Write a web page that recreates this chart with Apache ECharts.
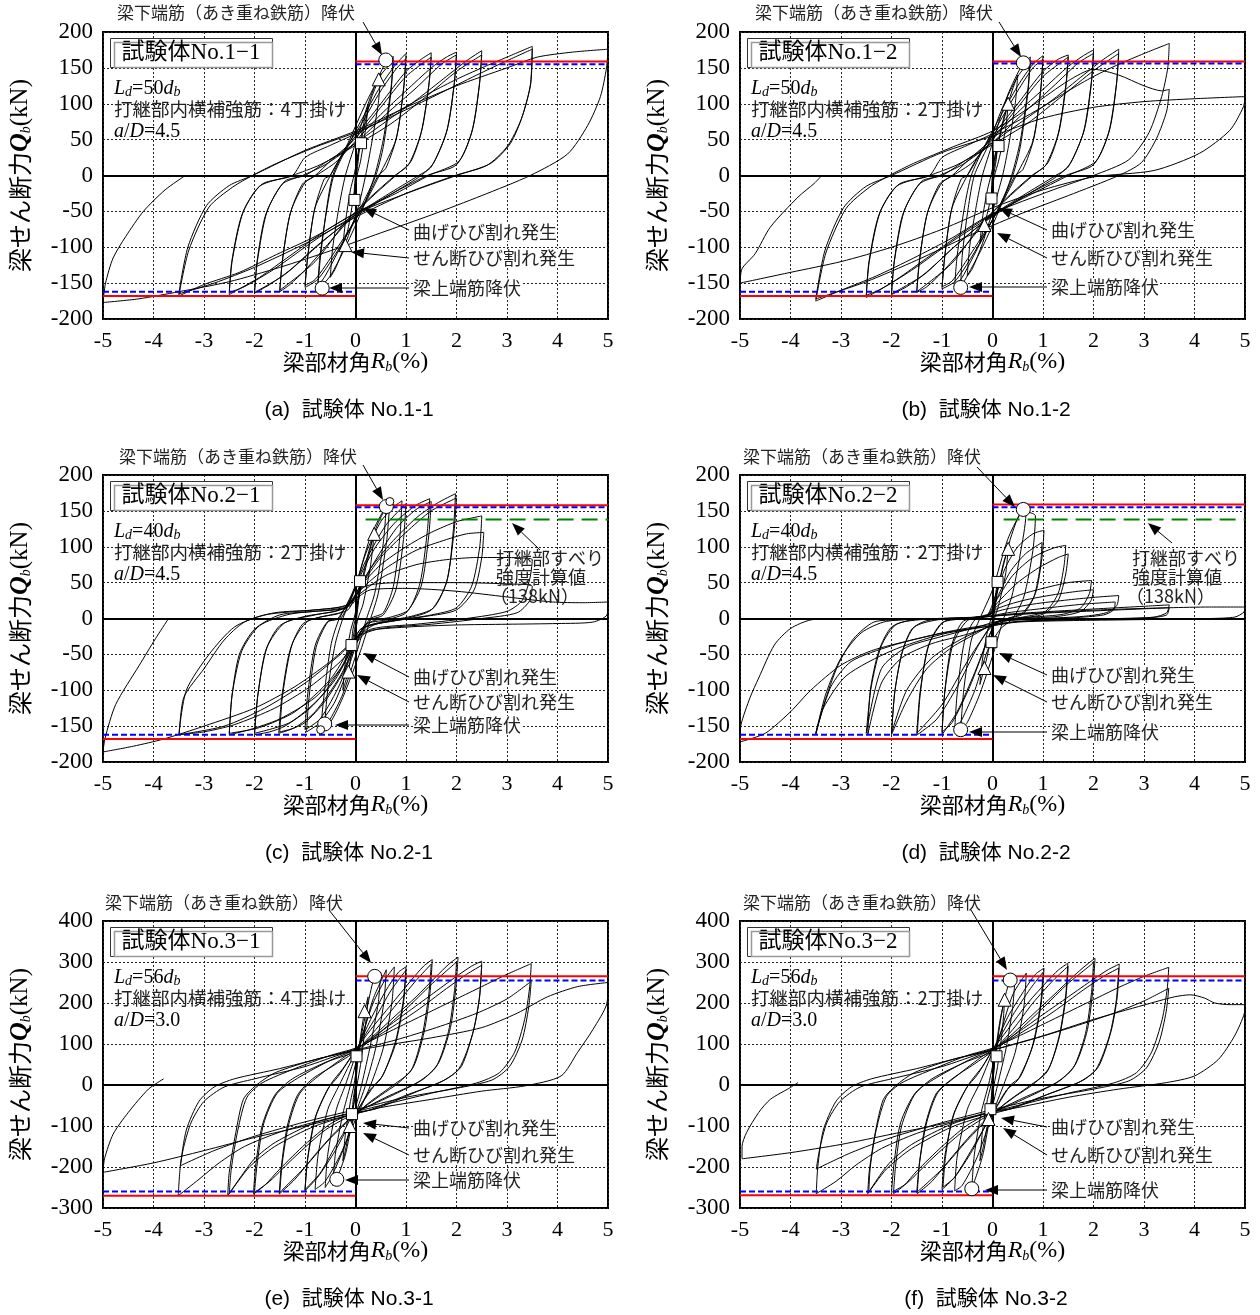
<!DOCTYPE html>
<html>
<head>
<meta charset="utf-8">
<script src="https://cdn.jsdelivr.net/npm/echarts@6/dist/echarts.min.js"></script>
<style>
  html, body { margin: 0; padding: 0; background: #fff; }
  #main { width: 1260px; height: 1315px; }
</style>
</head>
<body>
<div id="main"></div>
<script>
/*----- axis ranges -----*/
var xRange = [-5, 5, 1];
var yRange12 = [-200, 200, 50];
var yRange3 = [-300, 400, 100];

/*----- No.1-1 -----*/
var loopA = [
  [0,0],[0.03,20],[0.08,45],[0.06,25],[0.02,0],[-0.01,-20],[-0.03,-38],[-0.02,-15],[0,0],
  [0.1,50],[0.2,85],[0.25,98],[0.2,65],[0.1,20],[0.03,0],[-0.05,-35],[-0.15,-75],[-0.25,-98],[-0.2,-65],[-0.1,-20],[-0.03,0],
  [0.1,45],[0.3,105],[0.46,134],[0.5,142],[0.45,100],[0.32,45],[0.2,0],[0.05,-45],[-0.2,-95],[-0.4,-130],[-0.5,-142],[-0.45,-100],[-0.33,-45],[-0.2,0],
  [0,45],[0.3,110],[0.6,158],[0.75,166],[0.7,120],[0.55,50],[0.38,0],[0.15,-45],[-0.2,-100],[-0.5,-140],[-0.75,-160],[-0.7,-118],[-0.58,-50],[-0.45,0],
  [-0.15,45],[0.2,100],[0.5,140],[0.75,160],[0.7,115],[0.55,40],[0.4,0],[0.1,-45],[-0.3,-100],[-0.6,-140],[-0.75,-155],[-0.7,-110],[-0.55,-40],[-0.43,0],
  [-0.2,35],[0.1,75],[0.5,125],[0.8,155],[1.0,170],[0.96,125],[0.82,55],[0.6,10],[0.45,0],[0.2,-35],[0,-62],[-0.4,-110],[-0.75,-145],[-1.0,-156],[-0.95,-115],[-0.82,-50],[-0.62,-5],[-0.5,0],
  [-0.25,32],[0.1,70],[0.5,118],[0.8,148],[1.0,163],[0.95,120],[0.8,50],[0.47,0],[0.1,-50],[-0.4,-105],[-0.8,-145],[-1.0,-153],[-0.94,-110],[-0.8,-45],[-0.5,0],
  [-0.3,25],[0,55],[0.5,100],[1.0,145],[1.3,162],[1.5,171],[1.46,130],[1.32,65],[1.1,20],[0.8,0],[0.4,-25],[0,-52],[-0.5,-92],[-1.0,-132],[-1.3,-152],[-1.5,-162],[-1.45,-120],[-1.3,-55],[-1.05,-12],[-0.8,0],
  [-0.5,20],[0,52],[0.5,95],[1.0,138],[1.5,165],[1.45,125],[1.3,60],[1.05,15],[0.78,0],[0.3,-30],[-0.2,-65],[-0.8,-120],[-1.5,-160],[-1.44,-115],[-1.28,-50],[-1.0,-10],[-0.78,0],
  [-0.4,18],[0,48],[0.5,85],[1.0,118],[1.5,150],[1.8,165],[2.0,172],[1.96,130],[1.82,65],[1.55,18],[1.3,0],[0.8,-22],[0.2,-48],[-0.3,-72],[-0.8,-100],[-1.3,-132],[-1.7,-152],[-2.0,-164],[-1.95,-120],[-1.78,-55],[-1.45,-12],[-1.05,0],
  [-0.6,15],[0,45],[0.6,85],[1.2,122],[1.7,155],[2.0,168],[1.95,125],[1.8,60],[1.5,12],[1.25,0],[0.6,-28],[0,-55],[-0.7,-95],[-1.4,-138],[-2.0,-163],[-1.94,-118],[-1.75,-50],[-1.4,-8],[-1.0,0],
  [-0.6,18],[0,45],[0.6,75],[1.2,105],[1.8,138],[2.2,160],[2.5,174],[2.46,130],[2.32,65],[2.05,20],[1.45,0],[0.8,-25],[0,-52],[-0.7,-82],[-1.3,-112],[-1.9,-142],[-2.3,-158],[-2.5,-166],[-2.45,-120],[-2.25,-55],[-1.9,-15],[-1.25,0],
  [-0.7,15],[0,42],[0.7,72],[1.4,110],[2.0,145],[2.5,168],[2.45,125],[2.3,60],[2.0,15],[1.42,0],[0.6,-30],[0,-55],[-0.8,-90],[-1.6,-130],[-2.2,-155],[-2.5,-163],[-2.44,-118],[-2.22,-50],[-1.85,-12],[-1.25,0],
  [-1.0,25],[-0.5,42],[0,58],[0.5,76],[1.0,96],[1.5,116],[2.0,134],[2.5,150],[3.0,165],[3.5,180],[3.47,128],[3.3,82],[3.07,45],[2.68,17],[2.0,0],[1.2,-20],[0,-53],[-0.8,-85],[-1.56,-110],[-2.3,-135],[-3.0,-152],[-3.5,-168],[-3.3,-104],[-2.9,-44],[-2.43,-16],[-2.04,0],
  [-1.56,17],[-0.78,40],[0,60],[0.8,85],[1.6,112],[2.4,140],[3.0,160],[3.5,176],[3.46,125],[3.28,78],[3.0,40],[2.6,14],[1.97,0],[1.0,-25],[0,-58],[-1.0,-95],[-2.0,-128],[-2.8,-150],[-3.5,-165],[-3.32,-100],[-2.95,-42],[-2.5,-14],[-2.04,0],
  [-1.0,35],[0,62],[1.0,95],[2.0,125],[3.0,150],[3.6,165],[4.3,172],[5.0,176],[4.97,150],[4.85,110],[4.6,70],[4.2,30],[3.46,0],[2.5,-28],[1.5,-55],[0.5,-80],[-0.5,-105],[-1.5,-128],[-2.5,-148],[-3.5,-162],[-4.3,-172],[-5,-177],
  [-4.95,-150],[-4.8,-115],[-4.55,-85],[-4.2,-50],[-3.77,-20],[-3.37,0]
];
var yieldA = [[0.6,161],[-0.66,-157]];
var shearA = [[0.46,134],[-0.2,-97]];
var flexA = [[0.11,45],[-0.02,-34]];
var capA = [159, 155, -168, -162];

/*----- No.1-2 -----*/
var loopB = [
  [0,0],[0.04,25],[0.1,42],[0.07,20],[0.02,0],[-0.01,-18],[-0.02,-32],[-0.015,-12],[0,0],
  [0.12,45],[0.22,80],[0.31,100],[0.26,65],[0.12,20],[0.04,0],[-0.06,-40],[-0.16,-69],[-0.25,-95],[-0.2,-60],[-0.1,-20],[-0.03,0],
  [0.12,48],[0.35,110],[0.5,140],[0.45,100],[0.32,42],[0.2,0],[0.02,-45],[-0.2,-95],[-0.4,-130],[-0.5,-140],[-0.45,-98],[-0.32,-42],[-0.2,0],
  [0,45],[0.3,112],[0.61,157],[0.75,165],[0.7,120],[0.55,48],[0.38,0],[0.15,-45],[-0.2,-100],[-0.5,-140],[-0.63,-156],[-0.6,-112],[-0.48,-45],[-0.36,0],
  [-0.1,40],[0.2,95],[0.5,138],[0.75,160],[0.7,115],[0.55,40],[0.4,0],[0.1,-48],[-0.3,-102],[-0.6,-142],[-0.75,-155],[-0.7,-112],[-0.55,-42],[-0.42,0],
  [-0.2,35],[0.1,75],[0.5,125],[0.8,155],[1.0,167],[0.96,122],[0.82,52],[0.6,8],[0.45,0],[0.2,-35],[0,-62],[-0.4,-112],[-0.75,-148],[-1.0,-158],[-0.95,-115],[-0.82,-50],[-0.62,-5],[-0.5,0],
  [-0.25,30],[0.1,70],[0.5,118],[0.8,150],[1.0,162],[0.95,118],[0.8,48],[0.47,0],[0.1,-50],[-0.4,-106],[-0.8,-147],[-1.0,-155],[-0.94,-110],[-0.8,-45],[-0.5,0],
  [-0.3,25],[0,55],[0.5,100],[1.0,145],[1.3,162],[1.5,168],[1.46,128],[1.32,62],[1.1,18],[0.8,0],[0.4,-25],[0,-52],[-0.5,-95],[-1.0,-135],[-1.3,-155],[-1.5,-163],[-1.45,-120],[-1.3,-55],[-1.05,-12],[-0.8,0],
  [-0.5,20],[0,52],[0.5,95],[1.0,138],[1.5,165],[1.45,125],[1.3,58],[1.05,14],[0.78,0],[0.3,-30],[-0.2,-66],[-0.8,-122],[-1.5,-162],[-1.44,-116],[-1.28,-50],[-1.0,-10],[-0.78,0],
  [-0.4,18],[0,50],[0.5,88],[1.0,120],[1.5,152],[1.8,167],[2.0,175],[1.96,130],[1.82,64],[1.55,18],[1.3,0],[0.8,-22],[0.2,-48],[-0.3,-72],[-0.8,-102],[-1.3,-135],[-1.7,-155],[-2.0,-166],[-1.95,-122],[-1.78,-55],[-1.45,-12],[-1.05,0],
  [-0.6,15],[0,46],[0.6,86],[1.2,124],[1.7,157],[2.0,170],[1.95,126],[1.8,60],[1.5,12],[1.25,0],[0.6,-28],[0,-55],[-0.7,-96],[-1.4,-140],[-2.0,-165],[-1.94,-118],[-1.75,-50],[-1.4,-8],[-1.0,0],
  [-0.6,18],[0,46],[0.6,76],[1.2,106],[1.8,140],[2.2,162],[2.5,176],[2.46,130],[2.32,64],[2.05,20],[1.5,0],[0.8,-25],[0,-54],[-0.7,-85],[-1.3,-115],[-1.9,-145],[-2.3,-162],[-2.5,-170],[-2.45,-122],[-2.25,-55],[-1.9,-15],[-1.25,0],
  [-0.7,15],[0,43],[0.7,73],[1.4,112],[2.0,146],[2.5,170],[2.45,125],[2.3,60],[2.0,15],[1.45,0],[0.6,-30],[0,-56],[-0.8,-92],[-1.6,-132],[-2.2,-158],[-2.5,-167],[-2.44,-120],[-2.22,-50],[-1.85,-12],[-1.25,0],
  [-1.0,25],[-0.5,42],[0,58],[0.5,76],[1.0,96],[1.5,118],[2.0,138],[2.5,155],[3.0,170],[3.5,184],[3.47,150],[3.35,110],[3.1,60],[2.7,22],[2.0,0],[1.2,-20],[0,-53],[-0.8,-87],[-1.56,-115],[-2.3,-140],[-3.0,-160],[-3.5,-175],[-3.3,-108],[-2.9,-46],[-2.43,-16],[-2.04,0],
  [-1.56,17],[-0.78,40],[0,62],[0.8,98],[1.5,132],[2.0,148],[2.5,140],[3.0,125],[3.35,118],[3.5,120],[3.45,90],[3.25,52],[2.95,18],[2.5,0],[1.5,-28],[0.5,-55],[-0.5,-85],[-1.5,-118],[-2.5,-148],[-3.5,-172],[-3.32,-105],[-2.95,-45],[-2.5,-15],[-2.0,0],
  [-1.0,32],[0,55],[1.0,80],[2.0,95],[3.0,103],[4.0,107],[5.0,110],[4.97,96],[4.7,63],[4.1,31],[3.2,7],[2.0,-2],[1.0,-20],[0,-45],[-1.0,-75],[-2.0,-100],[-3.0,-120],[-4.0,-135],[-5.0,-150],
  [-4.96,-130],[-4.7,-109],[-4.4,-72],[-3.85,-30],[-3.53,-11],[-3.38,0]
];
var yieldB = [[0.61,157],[-0.63,-156]];
var shearB = [[0.31,100],[-0.16,-69]];
var flexB = [[0.12,41],[-0.02,-32]];
var capB = [159, 156, -168, -162];

/*----- No.2-1 -----*/
var loopC = [
  [0,0],[0.04,25],[0.09,52],[0.06,25],[0.02,0],[-0.03,-20],[-0.08,-37],[-0.05,-15],[0,0],
  [0.12,50],[0.25,90],[0.37,118],[0.3,75],[0.15,20],[0.05,0],[-0.06,-40],[-0.14,-74],[-0.25,-100],[-0.2,-60],[-0.1,-18],[-0.03,0],
  [0.15,55],[0.4,125],[0.61,156],[0.55,105],[0.38,35],[0.22,0],[0.02,-48],[-0.25,-105],[-0.5,-140],[-0.61,-147],[-0.55,-100],[-0.4,-35],[-0.25,0],
  [0,45],[0.3,115],[0.55,150],[0.68,163],[0.62,110],[0.45,35],[0.3,0],[0.1,-45],[-0.25,-110],[-0.5,-145],[-0.69,-155],[-0.62,-105],[-0.48,-35],[-0.32,0],
  [-0.05,35],[0.2,90],[0.5,135],[0.75,155],[0.92,164],[0.88,115],[0.75,45],[0.55,8],[0.3,0],[0.1,-20],[-0.1,-60],[-0.4,-115],[-0.7,-145],[-0.97,-158],[-0.92,-110],[-0.78,-40],[-0.55,-5],[-0.35,0],
  [-0.1,30],[0.2,80],[0.6,130],[1.0,160],[0.95,110],[0.8,40],[0.55,5],[0.3,-2],[0,-30],[-0.3,-90],[-0.7,-140],[-1.0,-155],[-0.95,-108],[-0.8,-38],[-0.55,-4],[-0.3,0],
  [-0.1,25],[0.1,60],[0.4,100],[0.8,135],[1.2,158],[1.47,167],[1.42,120],[1.28,50],[1.05,12],[0.7,2],[0.3,-5],[0.05,-30],[-0.2,-70],[-0.6,-115],[-1.0,-145],[-1.3,-155],[-1.52,-160],[-1.46,-110],[-1.3,-45],[-1.05,-8],[-0.7,2],[-0.3,8],
  [0,30],[0.3,70],[0.8,125],[1.2,152],[1.5,163],[1.45,115],[1.3,45],[1.0,8],[0.6,-2],[0.2,-8],[0,-35],[-0.3,-80],[-0.8,-130],[-1.2,-152],[-1.5,-158],[-1.44,-105],[-1.25,-35],[-0.95,-4],[-0.5,5],[-0.15,12],
  [0.05,40],[0.3,70],[0.7,105],[1.2,140],[1.6,160],[1.98,174],[1.94,125],[1.82,55],[1.55,15],[1.1,3],[0.5,-5],[0.1,-15],[-0.1,-45],[-0.4,-85],[-0.9,-125],[-1.4,-150],[-1.7,-158],[-2.0,-162],[-1.94,-110],[-1.78,-45],[-1.5,-10],[-1.0,3],[-0.4,10],[-0.1,20],
  [0.1,45],[0.5,85],[1.0,120],[1.5,150],[2.0,168],[1.95,120],[1.8,50],[1.5,12],[1.0,0],[0.4,-8],[0.05,-25],[-0.2,-60],[-0.7,-110],[-1.3,-145],[-2.0,-160],[-1.93,-105],[-1.75,-40],[-1.4,-6],[-0.8,5],[-0.2,15],
  [0.1,45],[0.5,75],[1.0,100],[1.5,120],[2.0,135],[2.3,140],[2.5,143],[2.46,100],[2.3,45],[2.0,15],[1.5,5],[0.8,-3],[0.2,-12],[-0.05,-35],[-0.3,-70],[-0.8,-110],[-1.5,-140],[-2.1,-155],[-2.5,-162],[-2.45,-110],[-2.3,-50],[-2.0,-15],[-1.5,5],[-0.8,10],[-0.2,15],
  [0.1,40],[0.6,70],[1.2,95],[1.8,110],[2.2,118],[2.54,120],[2.5,85],[2.35,40],[2.0,12],[1.4,3],[0.6,-5],[0.1,-15],[-0.1,-40],[-0.5,-85],[-1.2,-130],[-1.9,-152],[-2.5,-160],[-2.44,-105],[-2.25,-45],[-1.9,-10],[-1.3,6],[-0.5,12],[-0.1,18],
  [0.1,35],[0.6,60],[1.2,75],[1.8,82],[2.4,85],[3.0,85],[3.4,84],[3.5,82],[3.45,55],[3.3,25],[3.0,10],[2.2,0],[1.2,-8],[0.3,-15],[0,-35],[-0.3,-60],[-0.9,-95],[-1.6,-125],[-2.4,-148],[-3.0,-158],[-3.49,-162],[-3.4,-110],[-3.0,-70],[-2.6,-30],[-2.2,-5],[-1.6,8],[-0.8,12],[-0.2,18],
  [0.2,45],[1.0,50],[2.0,50],[3.1,48],[3.5,45],[3.45,25],[3.2,8],[2.5,0],[1.5,-8],[0.5,-14],[0.05,-25],[-0.3,-50],[-1.0,-90],[-1.8,-125],[-2.6,-150],[-3.5,-162],[-3.35,-100],[-2.9,-50],[-2.4,-12],[-1.8,5],[-0.8,12],[-0.2,18],
  [0.3,40],[1.0,42],[2.0,38],[3.0,30],[3.9,23],[4.5,22],[5.0,23],[4.98,5],[4.7,-5],[4.0,-7],[3.0,-8],[2.0,-9],[1.0,-12],[0.2,-18],[-0.1,-35],[-0.5,-60],[-1.2,-95],[-2.0,-125],[-3.0,-150],[-3.8,-168],[-4.4,-178],[-5.0,-186],
  [-4.96,-167],[-4.75,-120],[-4.28,-65],[-3.96,-28],[-3.72,-2]
];
var yieldC = [[0.61,156],[-0.61,-147]];
var yieldC2 = [[0.68,163],[-0.69,-155]];
var shearC = [[0.37,118],[-0.14,-74]];
var flexC = [[0.09,52],[-0.08,-37]];
var capC = [158, 155, -168, -162];
var slipC = [0.2, 138];

/*----- No.2-2 -----*/
var loopD = [
  [0,0],[0.04,25],[0.1,51],[0.07,25],[0.02,0],[-0.01,-18],[-0.02,-33],[-0.015,-12],[0,0],
  [0.12,45],[0.22,78],[0.31,97],[0.26,62],[0.12,18],[0.04,0],[-0.06,-38],[-0.16,-69],[-0.25,-92],[-0.2,-58],[-0.1,-18],[-0.03,0],
  [0.15,55],[0.35,110],[0.5,140],[0.61,152],[0.66,145],[0.55,90],[0.38,30],[0.22,0],[0.02,-48],[-0.25,-105],[-0.5,-145],[-0.63,-155],[-0.57,-100],[-0.42,-30],[-0.25,0],
  [0,40],[0.3,110],[0.55,145],[0.7,148],[0.85,143],[0.8,95],[0.62,30],[0.4,0],[0.15,-15],[-0.1,-45],[-0.35,-100],[-0.6,-140],[-0.75,-158],[-0.7,-105],[-0.55,-30],[-0.35,-2],[-0.1,5],
  [0.05,30],[0.25,70],[0.5,100],[0.8,118],[1.02,123],[0.98,85],[0.85,35],[0.6,8],[0.3,0],[0.05,-8],[-0.1,-30],[-0.35,-75],[-0.7,-130],[-1.0,-162],[-0.95,-105],[-0.82,-40],[-0.6,-5],[-0.3,2],[-0.05,6],
  [0.1,30],[0.35,65],[0.65,90],[0.98,106],[0.95,75],[0.82,30],[0.6,6],[0.3,0],[0.05,-8],[-0.15,-40],[-0.45,-95],[-0.8,-145],[-1.0,-158],[-0.94,-100],[-0.78,-35],[-0.5,-3],[-0.1,5],
  [0.1,28],[0.4,60],[0.8,85],[1.2,98],[1.45,102],[1.42,75],[1.3,35],[1.05,10],[0.6,2],[0.15,-3],[-0.05,-12],[-0.3,-40],[-0.7,-95],[-1.1,-140],[-1.49,-162],[-1.43,-105],[-1.28,-40],[-1.0,-6],[-0.5,0],[-0.1,4],
  [0.1,22],[0.5,50],[0.9,70],[1.3,85],[1.5,90],[1.45,62],[1.3,25],[1.0,6],[0.5,0],[0.1,-5],[-0.1,-18],[-0.5,-60],[-1.0,-120],[-1.5,-160],[-1.43,-100],[-1.25,-35],[-0.95,-4],[-0.4,1],[-0.05,5],
  [0.1,18],[0.5,32],[1.0,42],[1.5,50],[1.96,53],[1.92,35],[1.75,15],[1.4,6],[0.8,2],[0.2,-2],[-0.05,-10],[-0.3,-20],[-0.8,-40],[-1.3,-70],[-1.7,-115],[-2.0,-162],[-1.94,-105],[-1.8,-50],[-1.6,-15],[-1.3,-3],[-0.6,0],[-0.1,4],
  [0.1,14],[0.6,25],[1.2,33],[1.7,38],[2.0,40],[1.95,25],[1.75,10],[1.3,3],[0.6,0],[0.1,-4],[-0.1,-12],[-0.6,-28],[-1.2,-55],[-1.7,-100],[-2.0,-160],[-1.93,-100],[-1.78,-45],[-1.55,-12],[-1.1,-2],[-0.3,2],
  [0.2,12],[0.8,20],[1.5,26],[2.1,30],[2.5,32],[2.46,18],[2.25,8],[1.8,3],[1.0,0],[0.3,-3],[0,-10],[-0.5,-22],[-1.2,-35],[-1.8,-55],[-2.2,-90],[-2.47,-162],[-2.42,-100],[-2.25,-45],[-2.0,-12],[-1.6,-2],[-0.8,0],[-0.1,3],
  [0.3,8],[1.0,14],[1.8,20],[2.43,23],[2.4,12],[2.2,5],[1.6,1],[0.8,-1],[0.1,-4],[-0.3,-12],[-1.0,-25],[-1.7,-40],[-2.2,-70],[-2.5,-160],[-2.4,-95],[-2.2,-38],[-1.9,-8],[-1.3,-1],[-0.3,1],
  [0.3,6],[1.2,10],[2.2,14],[3.0,17],[3.5,19],[3.45,8],[3.2,2],[2.5,0],[1.5,-2],[0.5,-4],[0,-10],[-1.0,-22],[-2.0,-45],[-2.9,-80],[-3.35,-125],[-3.5,-162],[-3.34,-120],[-3.06,-65],[-2.75,-28],[-2.35,-5],[-1.88,-2],[-0.3,2],
  [0.3,5],[1.5,9],[2.5,12],[3.5,15],[3.45,5],[3.1,1],[2.0,-1],[0.8,-3],[0,-8],[-1.0,-20],[-2.0,-38],[-2.8,-60],[-3.2,-95],[-3.5,-160],[-3.3,-105],[-3.0,-55],[-2.6,-20],[-2.1,-4],[-1.0,0],[-0.2,2],
  [0.5,6],[1.5,10],[2.5,13],[3.5,15],[4.3,16],[5.0,16],[4.98,9],[4.8,2],[4.3,0],[3.5,-1],[2.5,-2],[1.5,-3],[0.5,-5],[0,-10],[-0.8,-18],[-1.6,-30],[-2.4,-45],[-3.0,-65],[-3.6,-100],[-4.0,-130],[-4.5,-160],[-5.0,-172],
  [-4.98,-148],[-4.8,-110],[-4.63,-83],[-4.32,-37],[-4.0,-14],[-3.6,-2],[-3.0,0]
];
var yieldD = [[0.61,152],[-0.63,-155]];
var shearD = [[0.31,97],[-0.16,-69]];
var flexD = [[0.1,51],[-0.02,-33]];
var capD = [159, 155, -168, -162];
var slipD = [0.22, 138];

/*----- No.3-1 -----*/
var loopE = [
  [0,0],[0.02,40],[0.02,70],[0.01,30],[0,0],[-0.03,-40],[-0.07,-71],[-0.04,-30],[0,0],
  [0.08,100],[0.18,180],[0.25,215],[0.2,150],[0.1,50],[0.03,0],[-0.05,-60],[-0.11,-100],[-0.2,-160],[-0.25,-185],[-0.2,-120],[-0.1,-40],[-0.03,0],
  [0.1,110],[0.25,200],[0.38,265],[0.5,275],[0.45,200],[0.3,100],[0.12,0],[-0.05,-80],[-0.2,-170],[-0.37,-229],[-0.45,-245],[-0.4,-170],[-0.25,-70],[-0.1,0],
  [0.1,100],[0.35,210],[0.61,281],[0.56,200],[0.4,90],[0.2,0],[0,-70],[-0.25,-160],[-0.5,-230],[-0.6,-250],[-0.55,-170],[-0.38,-60],[-0.2,0],
  [0.05,90],[0.35,200],[0.6,260],[0.77,288],[0.72,200],[0.55,90],[0.3,0],[0.05,-70],[-0.3,-170],[-0.6,-235],[-0.8,-255],[-0.74,-170],[-0.55,-60],[-0.32,0],
  [0,80],[0.3,160],[0.6,230],[0.85,275],[1.0,288],[0.95,210],[0.8,110],[0.55,25],[0.38,0],[0.1,-50],[-0.1,-90],[-0.4,-160],[-0.75,-225],[-1.0,-258],[-0.95,-180],[-0.8,-80],[-0.55,-10],[-0.35,20],
  [0,85],[0.4,165],[0.7,230],[1.0,280],[0.95,200],[0.78,95],[0.5,15],[0.3,-10],[0,-70],[-0.4,-150],[-0.7,-215],[-1.0,-255],[-0.94,-175],[-0.78,-75],[-0.5,0],[-0.25,40],
  [0,85],[0.3,135],[0.7,195],[1.1,255],[1.35,290],[1.52,306],[1.48,230],[1.36,130],[1.15,45],[0.85,5],[0.5,-25],[0,-70],[-0.4,-115],[-0.8,-170],[-1.2,-230],[-1.51,-266],[-1.47,-200],[-1.35,-100],[-1.15,-25],[-0.85,15],[-0.4,50],
  [0,82],[0.4,135],[0.8,195],[1.2,255],[1.5,295],[1.45,220],[1.32,120],[1.1,35],[0.75,0],[0.3,-40],[0,-72],[-0.5,-130],[-1.0,-200],[-1.5,-262],[-1.45,-190],[-1.32,-95],[-1.1,-20],[-0.7,25],[-0.2,70],
  [0,85],[0.4,125],[0.8,170],[1.2,215],[1.6,265],[1.85,295],[2.03,312],[1.99,240],[1.88,140],[1.65,55],[1.35,15],[0.9,-15],[0.3,-50],[0,-65],[-0.5,-95],[-1.0,-145],[-1.5,-205],[-1.8,-245],[-2.02,-266],[-1.98,-200],[-1.85,-100],[-1.6,-25],[-1.25,15],[-0.6,55],
  [0,82],[0.5,130],[1.0,185],[1.5,245],[2.0,300],[1.96,230],[1.84,130],[1.6,45],[1.25,8],[0.6,-30],[0,-68],[-0.6,-110],[-1.2,-175],[-1.7,-235],[-2.0,-262],[-1.95,-195],[-1.82,-95],[-1.55,-20],[-1.1,20],[-0.5,60],
  [0,87],[0.5,130],[1.0,175],[1.5,220],[2.0,265],[2.3,290],[2.5,302],[2.46,217],[2.34,135],[2.1,46],[1.79,14],[1.16,-19],[0.38,-59],[0,-67],[-0.8,-92],[-1.59,-140],[-2.0,-180],[-2.22,-215],[-2.53,-270],[-2.5,-213],[-2.37,-116],[-2.22,-35],[-1.98,-2],[-1.59,30],[-0.8,62],
  [0,88],[0.6,132],[1.2,180],[1.8,235],[2.2,270],[2.5,292],[2.45,210],[2.32,125],[2.05,40],[1.7,8],[1.0,-25],[0.3,-60],[0,-70],[-0.8,-100],[-1.6,-150],[-2.1,-200],[-2.5,-265],[-2.46,-205],[-2.33,-110],[-2.15,-30],[-1.85,5],[-1.2,40],[-0.5,72],
  [0,90],[0.5,120],[1.0,150],[1.5,180],[2.0,210],[2.5,240],[3.0,270],[3.48,296],[3.45,240],[3.35,160],[3.15,80],[2.85,30],[2.4,5],[1.5,-20],[0.5,-50],[0,-65],[-0.8,-90],[-1.5,-115],[-2.2,-150],[-2.7,-190],[-3.1,-230],[-3.51,-270],[-3.47,-200],[-3.35,-110],[-3.1,-40],[-2.8,-5],[-2.4,15],[-1.5,40],[-0.7,65],
  [0,85],[0.8,110],[1.6,140],[2.4,175],[3.0,210],[3.48,253],[3.43,190],[3.3,110],[3.05,45],[2.7,12],[2.0,-8],[1.0,-30],[0,-60],[-1.0,-90],[-2.0,-125],[-2.8,-160],[-3.47,-197],[-3.4,-150],[-3.25,-90],[-3.0,-40],[-2.6,-5],[-2.0,15],[-1.0,45],[-0.2,78],
  [0.5,95],[1.5,115],[2.5,140],[3.2,175],[3.8,215],[4.4,240],[5.0,250],[4.98,200],[4.7,135],[4.4,80],[4.07,22],[3.36,-2],[2.5,-15],[1.5,-35],[0.5,-55],[0,-70],[-1.0,-100],[-2.0,-128],[-3.0,-160],[-4.0,-190],[-5.0,-213],
  [-4.97,-180],[-4.8,-120],[-4.5,-67],[-4.1,-10],[-3.8,15]
];
var yieldE = [[0.38,265],[-0.37,-230]];
var shearE = [[0.18,180],[-0.11,-100]];
var flexE = [[0.02,70],[-0.07,-71]];
var capE = [265, 255, -270, -260];

/*----- No.3-2 -----*/
var loopF = [
  [0,0],[0.02,35],[0.04,60],[0.02,25],[0,0],[-0.02,-35],[-0.04,-59],[-0.02,-25],[0,0],
  [0.08,100],[0.16,165],[0.24,208],[0.2,140],[0.1,45],[0.03,0],[-0.04,-60],[-0.08,-83],[-0.18,-150],[-0.25,-185],[-0.2,-115],[-0.1,-35],[-0.03,0],
  [0.1,110],[0.22,200],[0.35,256],[0.45,268],[0.4,190],[0.27,90],[0.1,0],[-0.05,-80],[-0.2,-175],[-0.41,-253],[-0.36,-170],[-0.22,-65],[-0.08,0],
  [0.1,100],[0.4,220],[0.67,273],[0.62,190],[0.45,80],[0.22,0],[0,-70],[-0.3,-175],[-0.6,-245],[-0.75,-258],[-0.7,-175],[-0.5,-60],[-0.25,5],
  [0,80],[0.3,165],[0.65,235],[0.85,270],[1.02,285],[0.97,205],[0.82,105],[0.55,20],[0.36,0],[0.1,-50],[-0.1,-90],[-0.4,-160],[-0.75,-225],[-0.98,-249],[-0.93,-175],[-0.78,-75],[-0.52,-8],[-0.3,25],
  [0,85],[0.4,170],[0.75,235],[1.0,275],[0.95,195],[0.78,90],[0.5,12],[0.28,-12],[0,-70],[-0.4,-155],[-0.75,-225],[-1.0,-255],[-0.94,-170],[-0.76,-70],[-0.48,0],[-0.2,45],
  [0,85],[0.3,135],[0.7,200],[1.1,255],[1.3,280],[1.49,297],[1.45,220],[1.33,125],[1.12,42],[0.82,3],[0.45,-28],[0,-70],[-0.4,-118],[-0.8,-175],[-1.2,-235],[-1.49,-265],[-1.45,-195],[-1.33,-98],[-1.12,-22],[-0.8,15],[-0.35,52],
  [0,83],[0.4,135],[0.8,200],[1.2,255],[1.5,290],[1.45,210],[1.32,115],[1.08,32],[0.72,-3],[0.28,-42],[0,-72],[-0.5,-135],[-1.0,-205],[-1.5,-262],[-1.44,-185],[-1.3,-90],[-1.08,-18],[-0.68,25],[-0.18,72],
  [0,85],[0.4,125],[0.8,172],[1.2,218],[1.6,265],[1.85,292],[2.03,309],[1.99,235],[1.88,135],[1.65,52],[1.35,12],[0.9,-18],[0.3,-52],[0,-65],[-0.5,-98],[-1.0,-150],[-1.5,-210],[-1.75,-245],[-1.96,-265],[-1.92,-198],[-1.8,-100],[-1.55,-25],[-1.2,15],[-0.55,55],
  [0,82],[0.5,130],[1.0,188],[1.5,248],[2.0,298],[1.96,225],[1.84,125],[1.6,42],[1.25,5],[0.6,-32],[0,-68],[-0.6,-115],[-1.2,-180],[-1.7,-240],[-2.0,-262],[-1.95,-192],[-1.82,-92],[-1.52,-18],[-1.05,22],[-0.45,62],
  [0,87],[0.5,128],[1.0,172],[1.5,215],[2.0,258],[2.3,282],[2.51,295],[2.47,215],[2.35,132],[2.1,45],[1.8,12],[1.15,-20],[0.38,-58],[0,-66],[-0.8,-95],[-1.6,-145],[-2.0,-185],[-2.2,-215],[-2.47,-265],[-2.44,-210],[-2.32,-115],[-2.16,-35],[-1.92,-2],[-1.55,30],[-0.8,62],
  [0,88],[0.6,130],[1.2,178],[1.8,232],[2.2,265],[2.5,285],[2.45,205],[2.32,122],[2.05,38],[1.7,6],[1.0,-27],[0.3,-60],[0,-70],[-0.8,-102],[-1.6,-155],[-2.1,-205],[-2.45,-262],[-2.42,-200],[-2.3,-108],[-2.1,-28],[-1.8,5],[-1.15,40],[-0.5,72],
  [0,90],[0.5,118],[1.0,148],[1.5,178],[2.0,208],[2.5,238],[3.0,265],[3.49,287],[3.46,235],[3.36,160],[3.15,80],[2.85,30],[2.4,5],[1.5,-20],[0.5,-50],[0,-65],[-0.8,-92],[-1.5,-118],[-2.2,-155],[-2.7,-195],[-3.1,-235],[-3.49,-265],[-3.46,-200],[-3.35,-110],[-3.1,-40],[-2.8,-5],[-2.4,15],[-1.5,40],[-0.7,65],
  [0,85],[0.8,112],[1.6,142],[2.4,175],[3.0,205],[3.49,236],[3.44,180],[3.3,105],[3.05,42],[2.7,10],[2.0,-10],[1.0,-32],[0,-60],[-1.0,-92],[-2.0,-128],[-2.8,-165],[-3.49,-205],[-3.42,-155],[-3.28,-92],[-3.02,-40],[-2.62,-5],[-2.0,15],[-1.0,45],[-0.2,78],
  [1.0,120],[2.0,160],[3.0,195],[3.6,215],[3.92,220],[4.2,212],[4.4,200],[4.7,196],[5.0,196],[4.99,176],[4.79,119],[4.47,62],[4.0,22],[3.45,6],[2.5,-10],[1.5,-30],[0.5,-55],[0,-65],[-1.0,-95],[-2.0,-120],[-3.0,-145],[-4.0,-165],[-4.96,-180],
  [-4.96,-150],[-4.87,-116],[-4.63,-67],[-4.4,-35],[-4.0,-6],[-3.85,6]
];
var yieldF = [[0.35,256],[-0.41,-253]];
var shearF = [[0.24,208],[-0.08,-83]];
var flexF = [[0.08,70],[-0.04,-59]];
var capF = [265, 255, -269, -260];

/*----- text -----*/
var topNote = '梁下端筋（あき重ね鉄筋）降伏';
var flexNote = '曲げひび割れ発生';
var shearNote = 'せん断ひび割れ発生';
var yieldNote = '梁上端筋降伏';
var slipNote = ['打継部すべり', '強度計算値', '（138kN）'];

var serif = '"Liberation Serif", "Noto Sans CJK JP", serif';
var jp = '"Noto Sans CJK JP", sans-serif';
var sans = '"Liberation Sans", "Noto Sans CJK JP", sans-serif';

var W = 505, H = 287;

var panels = [
  { tag: '(a)', no: '1-1', ld: '50', hoop: '4', ad: '4.5', loop: loopA, yld: [yieldA], shr: shearA, flx: flexA, cap: capA, slip: null, yr: yRange12,
    pos: [103, 32], top: [117, 13], flexY: 232, shearY: 258, yieldY: 288,
    arrows: [[363,22,382,55],[409,230,363,208],[409,258,351,252],[409,288,329,288]] },
  { tag: '(b)', no: '1-2', ld: '50', hoop: '2', ad: '4.5', loop: loopB, yld: [yieldB], shr: shearB, flx: flexB, cap: capB, slip: null, yr: yRange12,
    pos: [740, 32], top: [755, 13], flexY: 230, shearY: 258, yieldY: 287,
    arrows: [[999,22,1021,57],[1047,230,999,208],[1047,258,997,233],[1047,287,969,287]] },
  { tag: '(c)', no: '2-1', ld: '40', hoop: '2', ad: '4.5', loop: loopC, yld: [yieldC, yieldC2], shr: shearC, flx: flexC, cap: capC, slip: slipC, yr: yRange12,
    pos: [103, 475], top: [119, 457], flexY: 677, shearY: 702, yieldY: 725, slipPos: [496, 558],
    arrows: [[363,465,383,500],[409,677,363,653],[409,702,357,675],[409,725,335,725],[540,550,512,523]] },
  { tag: '(d)', no: '2-2', ld: '40', hoop: '2', ad: '4.5', loop: loopD, yld: [yieldD], shr: shearD, flx: flexD, cap: capD, slip: slipD, yr: yRange12,
    pos: [740, 475], top: [743, 457], flexY: 675, shearY: 702, yieldY: 732, slipPos: [1132, 558],
    arrows: [[977,467,1015,507],[1047,675,999,653],[1047,702,993,675],[1047,732,969,732],[1172,543,1148,523]] },
  { tag: '(e)', no: '3-1', ld: '56', hoop: '4', ad: '3.0', loop: loopE, yld: [yieldE], shr: shearE, flx: flexE, cap: capE, slip: null, yr: yRange3,
    pos: [103, 921], top: [105, 903], flexY: 1128, shearY: 1155, yieldY: 1180,
    arrows: [[329,910,371,963],[409,1128,363,1123],[409,1155,363,1133],[409,1180,345,1180]] },
  { tag: '(f)', no: '3-2', ld: '56', hoop: '2', ad: '3.0', loop: loopF, yld: [yieldF], shr: shearF, flx: flexF, cap: capF, slip: null, yr: yRange3,
    pos: [740, 921], top: [743, 903], flexY: 1127, shearY: 1155, yieldY: 1190,
    arrows: [[971,910,1007,970],[1047,1127,1001,1118],[1047,1155,1003,1128],[1047,1190,985,1190]] }
];

var chart = echarts.init(document.getElementById('main'), null, { renderer: 'canvas' });

var grids = [], xAxes = [], yAxes = [], series = [], graphics = [];

function lineSeries(i, data, color, width, type, z, smooth) {
  return {
    type: 'line', xAxisIndex: i, yAxisIndex: i, data: data, showSymbol: false, silent: true, smooth: smooth || false,
    lineStyle: { color: color, width: width, type: type }, z: z, animation: false
  };
}

function markers(i, data, symbol, size) {
  return {
    type: 'scatter', xAxisIndex: i, yAxisIndex: i, data: data, symbol: symbol, symbolSize: size, silent: true,
    itemStyle: { color: '#fff', borderColor: '#000', borderWidth: 1, opacity: 1 }, z: 10, animation: false
  };
}

var sub = { fontFamily: serif, fontStyle: 'italic', fontSize: 14, verticalAlign: 'bottom', padding: [7, 0, 0, 0] };

panels.forEach(function (p, i) {
  var gx = p.pos[0], gy = p.pos[1];
  grids.push({ left: gx, top: gy, width: W, height: H, show: true, borderColor: '#000', borderWidth: 2, backgroundColor: 'transparent' });
  xAxes.push({
    type: 'value', gridIndex: i, min: xRange[0], max: xRange[1], interval: xRange[2],
    axisLine: { show: false }, axisTick: { show: false },
    splitLine: { show: true, lineStyle: { color: '#222', type: [2, 2], width: 1 } },
    axisLabel: { fontFamily: serif, fontSize: 22, color: '#000', margin: 11 }
  });
  yAxes.push({
    type: 'value', gridIndex: i, min: p.yr[0], max: p.yr[1], interval: p.yr[2],
    axisLine: { show: false }, axisTick: { show: false },
    splitLine: { show: true, lineStyle: { color: '#222', type: [2, 2], width: 1 } },
    axisLabel: { fontFamily: serif, fontSize: 23, color: '#000', margin: 10, padding: [0, 0, 10, 0] }
  });

  var loop = lineSeries(i, p.loop, '#000', 1, 'solid', 3, 0.25);
  loop.markLine = {
    silent: true, symbol: ['none', 'none'], label: { show: false }, animation: false,
    lineStyle: { color: '#000', width: 2, type: 'solid' },
    data: [{ xAxis: 0 }, { yAxis: 0 }]
  };
  series.push(loop);
  series.push(lineSeries(i, [[0, p.cap[0]], [xRange[1], p.cap[0]]], '#ff0000', 2, 'solid', 5));
  series.push(lineSeries(i, [[0, p.cap[1]], [xRange[1], p.cap[1]]], '#0000ff', 2, [6, 3], 5));
  series.push(lineSeries(i, [[xRange[0], p.cap[2]], [0, p.cap[2]]], '#ff0000', 2, 'solid', 5));
  series.push(lineSeries(i, [[xRange[0], p.cap[3]], [0, p.cap[3]]], '#0000ff', 2, [6, 3], 5));
  if (p.slip) {
    series.push(lineSeries(i, [[p.slip[0], p.slip[1]], [xRange[1], p.slip[1]]], '#008000', 2, [16, 8], 5));
  }
  series.push(markers(i, p.flx, 'rect', 11));
  series.push(markers(i, p.shr, 'triangle', 13));
  series.push(markers(i, p.yld[0], 'circle', 14));
  if (p.yld[1]) series.push(markers(i, p.yld[1], 'circle', 8));

  // specimen box
  graphics.push({ type: 'rect', left: gx + 7, top: gy + 6, shape: { width: 162, height: 29 }, style: { fill: '#fff', stroke: '#333', lineWidth: 1 }, z: 20 });
  graphics.push({ type: 'rect', left: gx + 9, top: gy + 8, shape: { width: 158, height: 25 }, style: { fill: 'none', stroke: '#999', lineWidth: 1.5 }, z: 20 });
  graphics.push({ type: 'text', x: gx + 88, y: gy + 21, z: 21, style: { text: '試験体No.' + p.no.replace('-', '−'), fontFamily: serif, fontSize: 23, fill: '#000', align: 'center', verticalAlign: 'middle' } });

  // parameters
  graphics.push({ type: 'text', x: gx + 11, y: gy + 57, z: 21, style: {
    text: '{i|L}{s|d}{n|=' + p.ld + '}{i|d}{s|b}', align: 'left', verticalAlign: 'middle',
    rich: { i: { fontFamily: serif, fontStyle: 'italic', fontSize: 20, color: '#000' }, n: { fontFamily: serif, fontSize: 20, color: '#000' }, s: sub }
  } });
  graphics.push({ type: 'text', x: gx + 11, y: gy + 77, z: 21, style: {
    text: '打継部内横補強筋：' + p.hoop + '丁掛け', fontFamily: jp, fontSize: 18.5, fill: '#222', align: 'left', verticalAlign: 'middle'
  } });
  graphics.push({ type: 'text', x: gx + 11, y: gy + 100, z: 21, style: {
    text: '{i|a}{n|/}{i|D}{n|=' + p.ad + '}', align: 'left', verticalAlign: 'middle',
    rich: { i: { fontFamily: serif, fontStyle: 'italic', fontSize: 20, color: '#000' }, n: { fontFamily: serif, fontSize: 20, color: '#000' } }
  } });

  // annotations
  graphics.push({ type: 'text', x: p.top[0], y: p.top[1], z: 21, style: { text: topNote, fontFamily: jp, fontSize: 17, fill: '#222', align: 'left', verticalAlign: 'middle' } });
  var nx = p.arrows[1][0] + 4;
  graphics.push({ type: 'text', x: nx, y: p.flexY, z: 21, style: { text: flexNote, fontFamily: jp, fontSize: 18, fill: '#222', align: 'left', verticalAlign: 'middle', backgroundColor: '#fff' } });
  graphics.push({ type: 'text', x: nx, y: p.shearY, z: 21, style: { text: shearNote, fontFamily: jp, fontSize: 18, fill: '#222', align: 'left', verticalAlign: 'middle', backgroundColor: '#fff' } });
  graphics.push({ type: 'text', x: nx, y: p.yieldY, z: 21, style: { text: yieldNote, fontFamily: jp, fontSize: 18, fill: '#222', align: 'left', verticalAlign: 'middle', backgroundColor: '#fff' } });
  if (p.slip) {
    slipNote.forEach(function (t, k) {
      graphics.push({ type: 'text', x: p.slipPos[0] + (k === 2 ? -6 : 0), y: p.slipPos[1] + k * 19, z: 21, style: { text: t, fontFamily: jp, fontSize: 18, fill: '#222', align: 'left', verticalAlign: 'middle' } });
    });
  }
  p.arrows.forEach(function (a) {
    var ang = Math.atan2(a[3] - a[1], a[2] - a[0]);
    var L = 13, w = 5;
    var bx = a[2] - L * Math.cos(ang), by = a[3] - L * Math.sin(ang);
    graphics.push({ type: 'line', z: 22, shape: { x1: a[0], y1: a[1], x2: bx, y2: by }, style: { stroke: '#000', lineWidth: 1 } });
    graphics.push({ type: 'polygon', z: 22, shape: { points: [
      [a[2], a[3]],
      [bx + w * Math.sin(ang), by - w * Math.cos(ang)],
      [bx - w * Math.sin(ang), by + w * Math.cos(ang)]
    ] }, style: { fill: '#000' } });
  });

  // axis titles and caption
  graphics.push({ type: 'text', x: gx + W / 2, y: gy + H + 43, z: 21, style: {
    text: '{j|梁部材角}{i|R}{s|b}{n|(%)}', align: 'center', verticalAlign: 'middle',
    rich: { j: { fontFamily: jp, fontSize: 22, color: '#222' }, i: { fontFamily: serif, fontStyle: 'italic', fontSize: 24, color: '#000' }, n: { fontFamily: serif, fontSize: 24, color: '#000' }, s: sub }
  } });
  graphics.push({ type: 'text', x: gx - 83, y: gy + H / 2, rotation: Math.PI / 2, z: 21, style: {
    text: '{j|梁せん断力}{i|Q}{s|b}{n|(kN)}', align: 'center', verticalAlign: 'middle',
    rich: { j: { fontFamily: jp, fontSize: 24, color: '#222' }, i: { fontFamily: serif, fontStyle: 'italic', fontWeight: 'bold', fontSize: 26, color: '#000' }, n: { fontFamily: serif, fontSize: 25, color: '#000' }, s: sub }
  } });
  graphics.push({ type: 'text', x: gx + 246, y: gy + 378, z: 21, style: {
    text: p.tag + '  試験体 No.' + p.no, fontFamily: sans, fontSize: 21, fill: '#000', align: 'center', verticalAlign: 'middle'
  } });
});

chart.setOption({
  animation: false,
  backgroundColor: '#fff',
  grid: grids,
  xAxis: xAxes,
  yAxis: yAxes,
  series: series,
  graphic: { elements: graphics }
});
</script>
</body>
</html>
